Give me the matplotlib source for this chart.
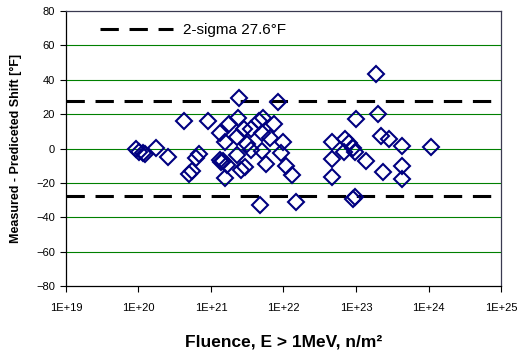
import math
import matplotlib
matplotlib.use("Agg")
import matplotlib.pyplot as plt
from matplotlib.ticker import FixedLocator, FuncFormatter
from matplotlib.lines import Line2D

plt.rcParams['font.family'] = ['Liberation Sans', 'DejaVu Sans']

# fluence (n/m^2) and measured - predicted shift (deg F)
fluence = [9.1e19, 1.02e20, 1.15e20, 1.23e20, 1.74e20, 2.57e20, 4.27e20, 5.0e20,
           5.5e20, 6.3e20, 6.9e20, 9.1e20, 1.35e21, 1.32e21, 1.38e21, 1.45e21,
           1.55e21, 1.55e21, 1.66e21, 1.78e21, 2.29e21, 2.34e21, 2.4e21, 2.29e21,
           2.63e21, 2.95e21, 2.82e21, 3.16e21, 3.55e21, 3.55e21, 4.57e21, 5.25e21,
           5.0e21, 5.0e21, 4.79e21, 5.75e21, 6.6e21, 7.4e21, 8.3e21, 9.3e21,
           9.8e21, 1.1e22, 1.29e22, 1.51e22, 4.68e22, 4.68e22, 4.68e22, 6.9e22,
           7.1e22, 8.1e22, 9.1e22, 9.8e22, 9.8e22, 9.1e22, 1.0e23, 1.38e23,
           1.86e23, 2.04e23, 2.24e23, 2.34e23, 2.88e23, 4.27e23, 4.27e23, 4.27e23,
           1.07e24]
shift = [-0.5, -2.0, -2.8, -3.4, 0.3, -4.8, 16.0, -14.8,
         -13.2, -5.5, -3.0, 16.0, 8.8, -6.5, -8.0, -7.2,
         3.9, -17.3, -9.6, 14.5, 6.8, 17.6, 29.5, -3.8,
         -12.5, -11.0, 11.1, 2.4, -0.9, 11.1, 16.0, 18.0,
         8.8, -1.3, -33.0, -9.0, 5.9, 14.0, 26.8, -2.8,
         3.9, -10.2, -15.4, -31.3, 4.0, -6.2, -16.4, -2.2,
         5.5, 3.0, 0.2, -1.8, -28.5, -29.5, 17.0, -7.2,
         43.5, 20.0, 7.3, -13.5, 5.3, 1.4, -10.1, -17.8,
         0.7]
two_sigma = 27.6

y_ticks = [-80, -60, -40, -20, 0, 20, 40, 60, 80]
x_ticks = [1e19, 1e20, 1e21, 1e22, 1e23, 1e24, 1e25]

fig = plt.figure(figsize=(5.22, 3.56), dpi=100)
ax = fig.add_axes([0.1264, 0.1966, 0.8334, 0.7725])

for g in y_ticks[1:-1]:
    ax.axhline(g, color='#008000', lw=0.8, zorder=1)

dash_kw = dict(color='black', lw=2.2, dashes=(6, 3.5), zorder=2)
ax.axhline(two_sigma, **dash_kw)
ax.axhline(-two_sigma, **dash_kw)

ax.plot(fluence, shift, linestyle='none', marker='D', ms=8, mfc='none',
        mec='#000080', mew=1.5, zorder=3)

ax.set_xscale('log')
ax.set_xlim(1e19, 1e25)
ax.set_ylim(-80, 80)
ax.xaxis.set_major_locator(FixedLocator(x_ticks))
ax.xaxis.set_minor_locator(FixedLocator([]))
ax.xaxis.set_major_formatter(FuncFormatter(lambda v, p: '1E+%d' % round(math.log10(v))))
ax.yaxis.set_major_locator(FixedLocator(y_ticks))
ax.tick_params(axis='both', direction='out', length=4, width=0.8, labelsize=8, colors='black')
ax.tick_params(axis='x', pad=8)
ax.tick_params(axis='y', pad=4)

for side in ['left', 'bottom']:
    ax.spines[side].set_color('black')
    ax.spines[side].set_linewidth(0.9)
for side in ['top', 'right']:
    ax.spines[side].set_color('#3a3a50')
    ax.spines[side].set_linewidth(0.9)

ax.set_xlabel('Fluence, E > 1MeV, n/m²', fontsize=12.5, fontweight='bold', labelpad=16)
ax.set_ylabel('Measured - Prediceted Shift [°F]', fontsize=9, fontweight='bold', labelpad=10)

handle = Line2D([], [], **dash_kw)
ax.legend([handle], ['2-sigma 27.6°F'], loc='upper left', frameon=False,
          fontsize=11, handlelength=4.8, handletextpad=0.65,
          borderaxespad=0.4, bbox_to_anchor=(0.05, 1.0))

fig.savefig('out.png', dpi=100, facecolor='white')
